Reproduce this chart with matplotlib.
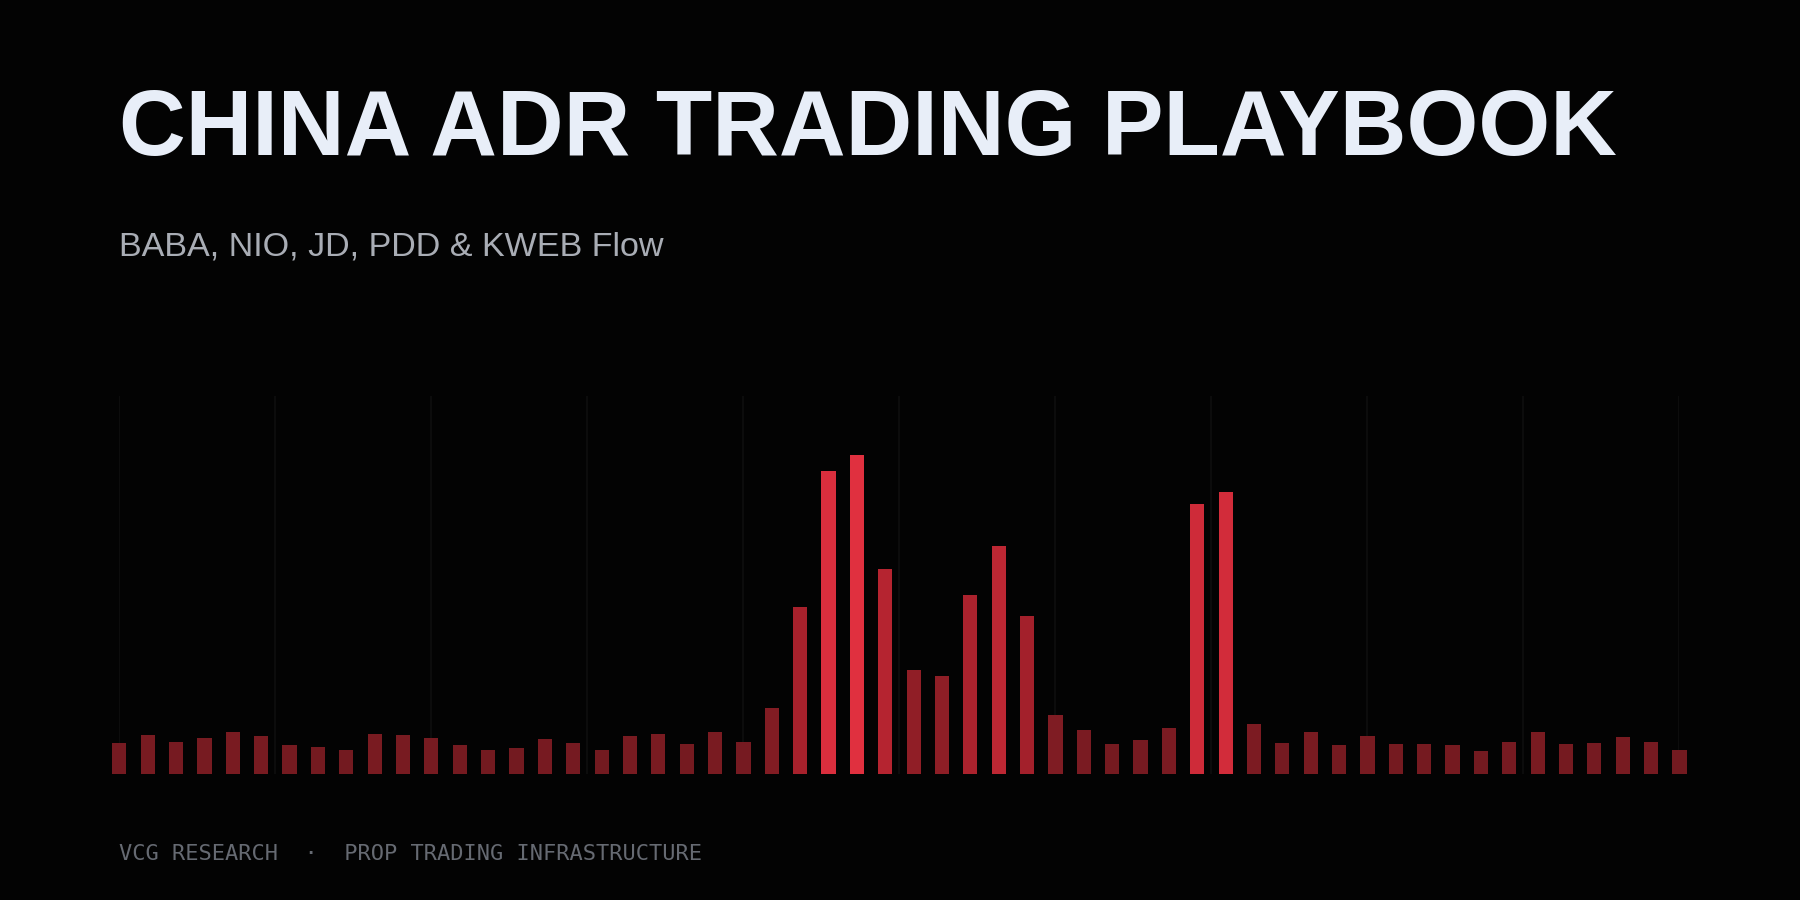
import matplotlib
matplotlib.use("Agg")
import matplotlib.pyplot as plt
import numpy as np
from matplotlib.colors import LinearSegmentedColormap

flow = [27, 34, 28, 31, 36, 33, 25, 23, 21, 35, 34, 31, 25, 21, 22, 30, 27, 21, 33, 35,
        26, 36, 28, 57, 145, 264, 278, 178, 90, 85, 156, 198, 137, 51, 38, 26, 29, 40,
        235, 245, 43, 27, 36, 25, 33, 26, 26, 25, 20, 28, 36, 26, 27, 32, 28, 21]
title = "CHINA ADR TRADING PLAYBOOK"
subtitle = "BABA, NIO, JD, PDD & KWEB Flow"
footer = "VCG RESEARCH  ·  PROP TRADING INFRASTRUCTURE"

fig = plt.figure(figsize=(18, 9), dpi=100, facecolor="#030303")
W, H = 1568, 784
ax = fig.add_axes([104/W, 1-674/H, 1359/W, (674-345)/H])
ax.set_facecolor("#030303")
x = np.arange(len(flow))
vals = np.array(flow, float)
cmap = LinearSegmentedColormap.from_list("r", ["#731a20", "#a8212c", "#e0303f"])
norm = (vals - vals.min()) / (vals.max() - vals.min())
for xi in np.linspace(0, len(flow)-1, 11):
    ax.axvline(xi, color="#0f0f0f", lw=1.2, zorder=0)
ax.bar(x, vals, width=0.5, color=cmap(norm), clip_on=False, zorder=2)
ax.set_xlim(0, len(flow)-1)
ax.set_ylim(0, 674-345)
ax.axis("off")

fig.text(104/W, 1-135/H, title, color="#e8eef8", fontsize=66.5, fontweight="bold",
         family="Liberation Sans", va="baseline")
fig.text(104/W, 1-223/H, subtitle, color="#a9adb5", fontsize=24.6,
         family="Liberation Sans", va="baseline")
fig.text(104/W, 1-749/H, footer, color="#666a72", fontsize=15.8,
         family="DejaVu Sans Mono", va="baseline")
fig.savefig("out.png", dpi=100, facecolor=fig.get_facecolor())
